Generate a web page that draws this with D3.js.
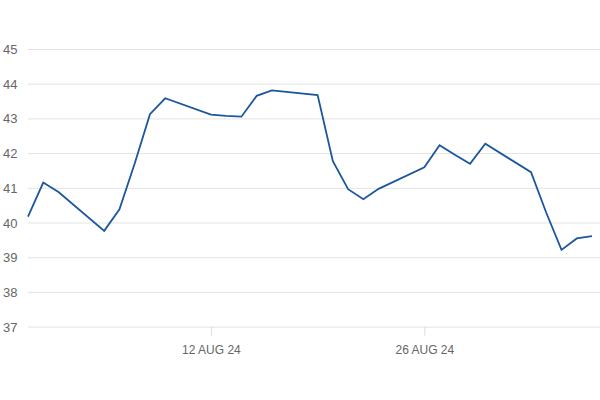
<!DOCTYPE html>
<html>
<head>
<meta charset="utf-8">
<script src="https://cdn.jsdelivr.net/npm/d3@7"></script>
<style>
  body { margin: 0; background: #fff; }
  svg { display: block; font-family: "Liberation Sans", Arial, sans-serif; }
</style>
</head>
<body>
<script>
// Data
const dates = [
    '2024-07-31', '2024-08-01', '2024-08-02', '2024-08-05', '2024-08-06', '2024-08-07',
    '2024-08-08', '2024-08-09', '2024-08-12', '2024-08-13', '2024-08-14', '2024-08-15',
    '2024-08-16', '2024-08-19', '2024-08-20', '2024-08-21', '2024-08-22', '2024-08-23',
    '2024-08-26', '2024-08-27', '2024-08-28', '2024-08-29', '2024-08-30', '2024-09-02',
    '2024-09-03', '2024-09-04', '2024-09-05', '2024-09-06'
];
const values = [
    40.17, 41.15, 40.88, 39.76, 40.38, 41.70,
    43.12, 43.58, 43.11, 43.07, 43.05, 43.65,
    43.81, 43.67, 41.77, 40.96, 40.67, 40.97,
    41.59, 42.23, 41.95, 41.69, 42.27, 41.45,
    40.28, 39.21, 39.54, 39.61
];
const yTicks = [37, 38, 39, 40, 41, 42, 43, 44, 45];
const xTickDates = ['2024-08-12', '2024-08-26'];
const xTickLabels = ['12 AUG 24', '26 AUG 24'];

const width = 600,
    height = 400;

const parse = d3.utcParse('%Y-%m-%d');
const data = dates.map((d, i) => ({ date: parse(d), value: values[i] }));

let svg = d3
    .select('body')
    .append('svg')
    .attr('width', width)
    .attr('height', height);

// Scales
let x = d3.scaleUtc().domain([parse('2024-07-31'), parse('2024-09-06')]).range([28, 592]);
let y = d3.scaleLinear().domain([37, 45]).range([326.6, 49]);

// Gridlines + y labels
let yAxis = svg.append('g');
yAxis
    .call(d3.axisLeft(y).tickValues(yTicks).tickSize(0).tickPadding(0))
    .call(g => g.select('.domain').remove());
yAxis.selectAll('.tick line')
    .attr('x1', 28)
    .attr('x2', width)
    .attr('stroke', '#e3e3e3')
    .attr('stroke-width', 1);
yAxis.selectAll('.tick text')
    .attr('x', 17.5)
    .attr('dy', '0.35em')
    .attr('text-anchor', 'end')
    .attr('fill', '#666')
    .style('font-size', '13px');

// x axis ticks + labels
let xAxis = svg.append('g').attr('transform', `translate(0, ${y(37)})`);
xAxis
    .call(d3.axisBottom(x)
        .tickValues(xTickDates.map(parse))
        .tickFormat((d, i) => xTickLabels[i])
        .tickSize(9)
        .tickPadding(10))
    .call(g => g.select('.domain').remove());
xAxis.selectAll('.tick line').attr('stroke', '#dcdcdc');
xAxis.selectAll('.tick text')
    .attr('fill', '#666')
    .style('font-size', '12px');

// Line
let line = d3.line().x(d => x(d.date)).y(d => y(d.value));

svg.append('path')
    .datum(data)
    .attr('fill', 'none')
    .attr('stroke', '#1c569c')
    .attr('stroke-width', 1.8)
    .attr('stroke-linejoin', 'miter')
    .attr('d', line);
</script>
</body>
</html>
